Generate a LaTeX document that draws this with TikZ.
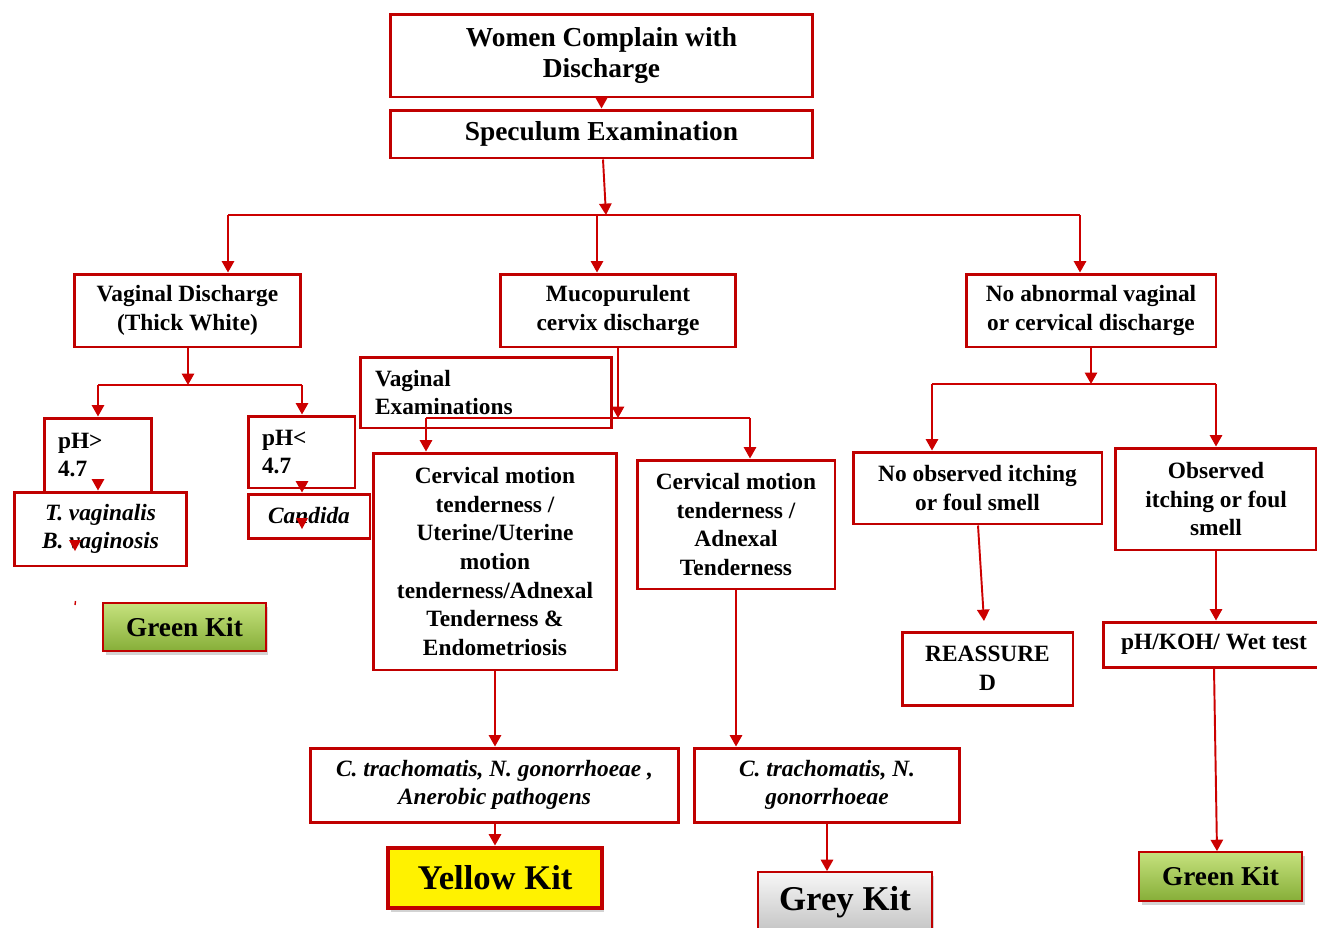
\documentclass[tikz,border=0pt]{standalone}
\usepackage{fontspec}
\setmainfont{Liberation Serif}
\usetikzlibrary{arrows.meta,shadows,calc}
\definecolor{boxred}{HTML}{C00000}
\definecolor{linered}{HTML}{CC0000}
\definecolor{greentop}{HTML}{C6E27E}
\definecolor{greenbot}{HTML}{86AE38}
\definecolor{greytop}{HTML}{F7F7F7}
\definecolor{greybot}{HTML}{C4C4C4}
\begin{document}
\begin{tikzpicture}[x=0.02cm,y=-0.02cm,
  box/.style={draw=boxred, line width=1.7pt, fill=white, inner sep=0pt, align=center,
    font=\fontsize{13.3}{16.3}\selectfont\bfseries},
  bigbox/.style={box, font=\fontsize{15.6}{18.1}\selectfont\bfseries},
  itbox/.style={box, font=\fontsize{13.3}{16.3}\selectfont\bfseries\itshape},
  lbox/.style={box, align=left, inner xsep=0.28cm},
  kit/.style={draw=boxred, line width=1pt, inner sep=0pt,
    drop shadow={opacity=0.35, shadow xshift=0.05cm, shadow yshift=-0.07cm}},
  greenkit/.style={kit, top color=greentop, bottom color=greenbot,
    font=\fontsize{15.5}{18}\selectfont\bfseries},
  greykit/.style={kit, top color=greytop, bottom color=greybot,
    font=\fontsize{19.8}{22}\selectfont\bfseries},
  yellowkit/.style={draw=boxred, line width=2.8pt, fill=yellow, inner sep=0pt,
    drop shadow={opacity=0.35, shadow xshift=0.05cm, shadow yshift=-0.07cm},
    font=\fontsize{19.7}{22}\selectfont\bfseries},
  ln/.style={draw=linered, line width=1.1pt},
  arr/.style={ln, -{Triangle[length=6.5pt,width=7pt]}}
]
\useasboundingbox (0,0) rectangle (1317,927);
\clip (0,0) rectangle (1317,927);

% top
\node[bigbox, minimum width=8.46cm, minimum height=1.66cm] (top) at (601.5,55.5) {Women Complain with\\Discharge};
\node[bigbox, minimum width=8.46cm, minimum height=0.96cm] (spec) at (601.5,134) {Speculum Examination};

% level 2
\node[box, minimum width=4.54cm, minimum height=1.46cm] (vd) at (187.5,310.5) {Vaginal Discharge\\(Thick White)};
\node[box, minimum width=4.72cm, minimum height=1.46cm] (muco) at (618,310.5) {Mucopurulent\\cervix discharge};
\node[box, minimum width=5.0cm, minimum height=1.46cm] (noab) at (1091,310.5) {No abnormal vaginal\\or cervical discharge};

% left branch
\node[lbox, text width=1.6cm, minimum height=1.48cm] (phg) at (98,455) {pH>\\4.7};
\node[itbox, minimum width=3.46cm, minimum height=1.48cm] (tv) at (100.5,529) {T. vaginalis\\B. vaginosis};
\node[lbox, text width=1.58cm, minimum height=1.44cm] (phl) at (301.5,452) {pH<\\4.7};
\node[itbox, minimum width=2.44cm, minimum height=0.88cm] (cand) at (309,516) {Candida};
\node[greenkit, minimum width=3.26cm, minimum height=0.96cm] (gk1) at (184.5,627) {Green Kit};

% middle branch
\node[lbox, inner xsep=0.3cm, text width=4.44cm, minimum height=1.42cm] (vexam) at (486,392.5) {Vaginal\\Examinations};
\node[box, minimum width=4.86cm, minimum height=4.34cm] (cmt1) at (495,561.5)
  {Cervical motion\\tenderness /\\Uterine/Uterine\\motion\\tenderness/Adnexal\\Tenderness \&\\Endometriosis};
\node[box, minimum width=3.96cm, minimum height=2.58cm] (cmt2) at (736,524.5)
  {Cervical motion\\tenderness /\\Adnexal\\Tenderness};
\node[itbox, minimum width=7.38cm, minimum height=1.48cm] (ct1) at (494.5,785)
  {C. trachomatis, N. gonorrhoeae ,\\Anerobic pathogens};
\node[yellowkit, minimum width=4.28cm, minimum height=1.2cm] (yk) at (495,878) {Yellow Kit};
\node[itbox, minimum width=5.32cm, minimum height=1.48cm] (ct2) at (827,785)
  {C. trachomatis, N.\\gonorrhoeae};
\node[greykit, minimum width=3.48cm, minimum height=1.2cm] (grk) at (845,902) {Grey Kit};

% right branch
\node[box, minimum width=4.98cm, minimum height=1.44cm] (noitch) at (977.5,488) {No observed itching\\or foul smell};
\node[box, minimum width=4.02cm, minimum height=2.04cm] (obs) at (1216,499) {Observed\\itching or foul\\smell};
\node[box, minimum width=3.42cm, minimum height=1.46cm] (reas) at (987.5,668.5) {REASSURE\\D};
\node[box, minimum width=4.44cm, minimum height=0.9cm] (phkoh) at (1214,644.5) {pH/KOH/ Wet test};
\node[greenkit, minimum width=3.26cm, minimum height=0.98cm] (gk2) at (1220.5,876.5) {Green Kit};

% junction coordinates
\coordinate (j1) at (606,215);
\coordinate (hL) at (228,215);
\coordinate (hM) at (597,215);
\coordinate (hR) at (1080,215);
\coordinate (jv) at (188,385);
\coordinate (vL) at (98,385);
\coordinate (vR) at (302,385);
\coordinate (jm) at (618,418);
\coordinate (mL) at (426,418);
\coordinate (mR) at (750,418);
\coordinate (jn) at (1091,384);
\coordinate (nL) at (932,384);
\coordinate (nR) at (1216,384);
\coordinate (rtip) at (984,621);

% connectors
\draw[arr] (top.south) -- (spec.north);
\draw[arr] ([xshift=0.03cm]spec.south) -- (j1);
\draw[ln] (hL) -- (hR);
\draw[arr] (hL) -- (hL |- vd.north);
\draw[arr] (hM) -- (hM |- muco.north);
\draw[arr] (hR) -- (hR |- noab.north);

\draw[arr] (vd.south -| jv) -- (jv);
\draw[ln] (vL) -- (vR);
\draw[arr] (vL) -- (vL |- phg.north);
\draw[arr] (vR) -- (vR |- phl.north);
\draw[arr] ([yshift=0.2cm]phg.south) -- (tv.north -| phg.south);
\draw[arr] ([yshift=0.1cm]phl.south -| vR) -- (cand.north -| vR);

\draw[arr] (muco.south) -- (jm);
\draw[ln] (mL) -- (mR);
\draw[arr] (mL) -- (mL |- cmt1.north);
\draw[arr] (mR) -- (mR |- cmt2.north);
\draw[arr] (cmt1.south) -- (cmt1.south |- ct1.north);
\draw[arr] (ct1.south -| yk.north) -- (yk.north);
\draw[arr] (cmt2.south) -- (cmt2.south |- ct2.north);
\draw[arr] (ct2.south) -- (ct2.south |- grk.north);

\draw[arr] (noab.south) -- (jn);
\draw[ln] (nL) -- (nR);
\draw[arr] (nL) -- (nL |- noitch.north);
\draw[arr] (nR) -- (nR |- obs.north);
\draw[arr] ([xshift=0.01cm]noitch.south) -- (rtip);
\draw[arr] (obs.south) -- (obs.south |- phkoh.north);
\draw[arr] (phkoh.south) -- ([xshift=-0.07cm]gk2.north);

% stray arrowheads / marks as in the picture
\fill[linered] (69,540) -- (81,540) -- (75,551) -- cycle;
\fill[linered] (296,518) -- (308,518) -- (302,529) -- cycle;
\draw[linered, line width=0.8pt] (75.5,601) -- (75,605);
\end{tikzpicture}
\end{document}
